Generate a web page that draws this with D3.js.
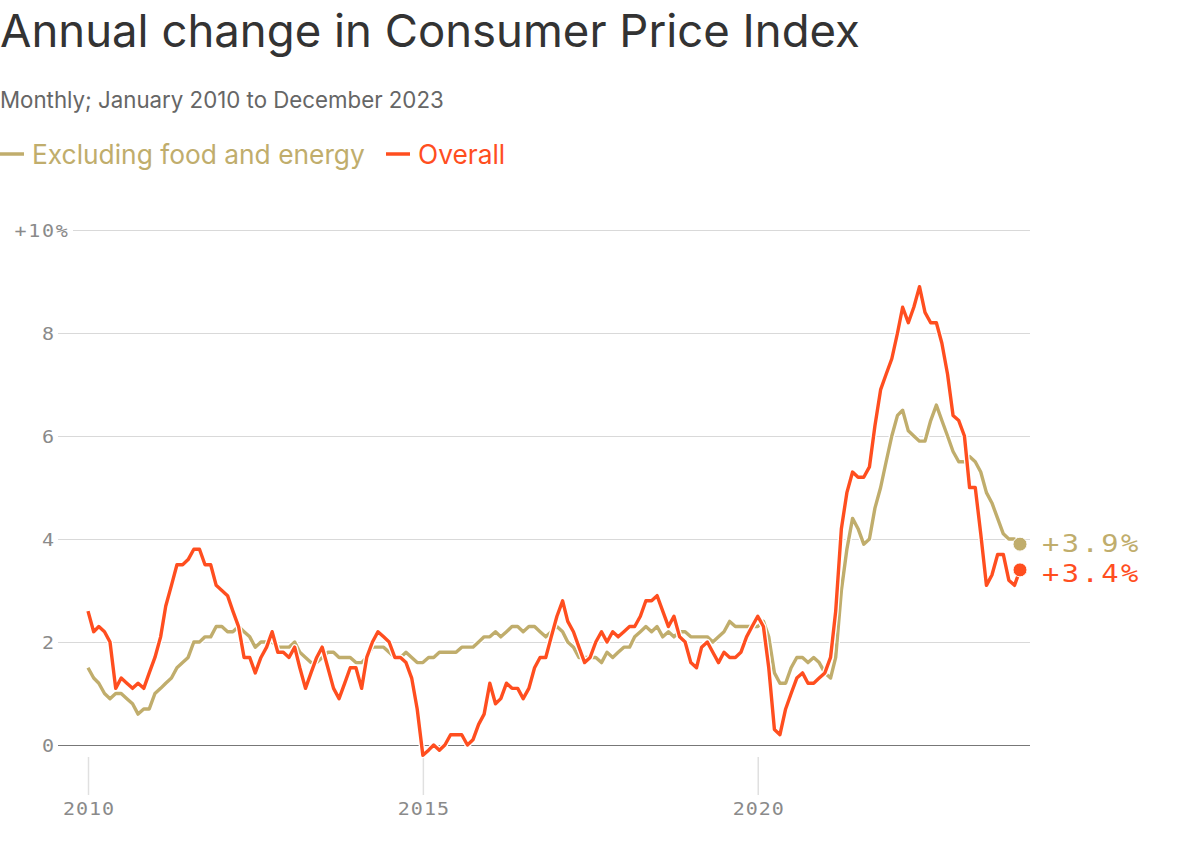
<!DOCTYPE html>
<html><head><meta charset="utf-8">
<script src="https://cdn.jsdelivr.net/npm/d3@7"></script>
<style>
body{margin:0;background:#fff;}
svg{display:block;}
</style></head><body>
<svg id="chart" width="1204" height="868"></svg>
<script>
// ---------- DATA ----------
const title = "Annual change in Consumer Price Index";
const subtitle = "Monthly; January 2010 to December 2023";
const seriesNames = ["Excluding food and energy", "Overall"];
const startYear = 2010, endYear = 2023;
const xTickYears = [2010, 2015, 2020];
const yTicks = [0, 2, 4, 6, 8, 10];

// Overall CPI, annual % change, Jan 2010 .. Dec 2023 (one row per year)
const overall = [
  2.6, 2.2, 2.3, 2.2, 2.0, 1.1, 1.3, 1.2, 1.1, 1.2, 1.1, 1.4,
  1.7, 2.1, 2.7, 3.1, 3.5, 3.5, 3.6, 3.8, 3.8, 3.5, 3.5, 3.1,
  3.0, 2.9, 2.6, 2.3, 1.7, 1.7, 1.4, 1.7, 1.9, 2.2, 1.8, 1.8,
  1.7, 1.9, 1.5, 1.1, 1.4, 1.7, 1.9, 1.5, 1.1, 0.9, 1.2, 1.5,
  1.5, 1.1, 1.7, 2.0, 2.2, 2.1, 2.0, 1.7, 1.7, 1.6, 1.3, 0.7,
 -0.2,-0.1, 0.0,-0.1, 0.0, 0.2, 0.2, 0.2, 0.0, 0.1, 0.4, 0.6,
  1.2, 0.8, 0.9, 1.2, 1.1, 1.1, 0.9, 1.1, 1.5, 1.7, 1.7, 2.1,
  2.5, 2.8, 2.4, 2.2, 1.9, 1.6, 1.7, 2.0, 2.2, 2.0, 2.2, 2.1,
  2.2, 2.3, 2.3, 2.5, 2.8, 2.8, 2.9, 2.6, 2.3, 2.5, 2.1, 2.0,
  1.6, 1.5, 1.9, 2.0, 1.8, 1.6, 1.8, 1.7, 1.7, 1.8, 2.1, 2.3,
  2.5, 2.3, 1.5, 0.3, 0.2, 0.7, 1.0, 1.3, 1.4, 1.2, 1.2, 1.3,
  1.4, 1.7, 2.6, 4.2, 4.9, 5.3, 5.2, 5.2, 5.4, 6.2, 6.9, 7.2,
  7.5, 8.0, 8.5, 8.2, 8.5, 8.9, 8.4, 8.2, 8.2, 7.8, 7.2, 6.4,
  6.3, 6.0, 5.0, 5.0, 4.1, 3.1, 3.3, 3.7, 3.7, 3.2, 3.1, 3.4
];

// Core CPI (excluding food and energy), annual % change, Jan 2010 .. Dec 2023
const core = [
  1.5, 1.3, 1.2, 1.0, 0.9, 1.0, 1.0, 0.9, 0.8, 0.6, 0.7, 0.7,
  1.0, 1.1, 1.2, 1.3, 1.5, 1.6, 1.7, 2.0, 2.0, 2.1, 2.1, 2.3,
  2.3, 2.2, 2.2, 2.3, 2.2, 2.1, 1.9, 2.0, 2.0, 2.0, 1.9, 1.9,
  1.9, 2.0, 1.8, 1.7, 1.6, 1.6, 1.7, 1.8, 1.8, 1.7, 1.7, 1.7,
  1.6, 1.6, 1.7, 1.9, 1.9, 1.9, 1.8, 1.7, 1.7, 1.8, 1.7, 1.6,
  1.6, 1.7, 1.7, 1.8, 1.8, 1.8, 1.8, 1.9, 1.9, 1.9, 2.0, 2.1,
  2.1, 2.2, 2.1, 2.2, 2.3, 2.3, 2.2, 2.3, 2.3, 2.2, 2.1, 2.2,
  2.3, 2.2, 2.0, 1.9, 1.7, 1.7, 1.7, 1.7, 1.6, 1.8, 1.7, 1.8,
  1.9, 1.9, 2.1, 2.2, 2.3, 2.2, 2.3, 2.1, 2.2, 2.1, 2.2, 2.2,
  2.1, 2.1, 2.1, 2.1, 2.0, 2.1, 2.2, 2.4, 2.3, 2.3, 2.3, 2.3,
  2.3, 2.4, 2.1, 1.4, 1.2, 1.2, 1.5, 1.7, 1.7, 1.6, 1.7, 1.6,
  1.4, 1.3, 1.7, 3.0, 3.8, 4.4, 4.2, 3.9, 4.0, 4.6, 5.0, 5.5,
  6.0, 6.4, 6.5, 6.1, 6.0, 5.9, 5.9, 6.3, 6.6, 6.3, 6.0, 5.7,
  5.5, 5.5, 5.6, 5.5, 5.3, 4.9, 4.7, 4.4, 4.1, 4.0, 4.0, 3.9
];

// ---------- STYLE ----------
const colCore = "#c0ad6c";
const colOverall = "#ff4e1f";
const sans = "Inter, 'Noto Sans', sans-serif";
const mono = "'DejaVu Sans Mono', monospace";
const tickScale = 1.1, tickLs = 1.55;

const svg = d3.select("#chart");

const months = d3.timeMonth.range(new Date(startYear, 0, 1), new Date(endYear + 1, 0, 1));
const coreData = months.map((d, i) => ({date: d, v: core[i]}));
const overallData = months.map((d, i) => ({date: d, v: overall[i]}));

const x = d3.scaleTime()
  .domain([months[0], months[months.length - 1]])
  .range([88, 1020]);
const y = d3.scaleLinear().domain([0, 10]).range([745, 230]);

function fitWidth(sel, target) {
  const w = sel.node().getComputedTextLength();
  const fs = parseFloat(sel.attr("font-size"));
  sel.attr("font-size", fs * target / w);
}

// Title / subtitle
fitWidth(svg.append("text").attr("x", 0).attr("y", 47).attr("font-family", sans)
  .attr("font-size", 46).attr("fill", "#333").text(title), 860);
fitWidth(svg.append("text").attr("x", 0).attr("y", 108).attr("font-family", sans)
  .attr("font-size", 21).attr("fill", "#666").text(subtitle), 444);

// Legend
const legend = [
  {name: seriesNames[0], color: colCore, x: 0},
  {name: seriesNames[1], color: colOverall, x: 386}
];
let legendFs = null;
legend.forEach((l, i) => {
  svg.append("line").attr("x1", l.x).attr("x2", l.x + 24).attr("y1", 154).attr("y2", 154)
    .attr("stroke", l.color).attr("stroke-width", 3.5);
  const t = svg.append("text").attr("x", l.x + 32).attr("y", 164).attr("font-family", sans)
    .attr("font-size", legendFs || 26).attr("fill", l.color).text(l.name);
  if (i === 0) { fitWidth(t, 333); legendFs = t.attr("font-size"); }
});

// Y axis with gridlines
const yAxis = d3.axisLeft(y).tickValues(yTicks).tickSize(-(1030 - 58)).tickPadding(0)
  .tickFormat(d => d === 10 ? "+10" : d);
const gy = svg.append("g").attr("transform", "translate(58,0)").call(yAxis);
gy.select(".domain").remove();
gy.selectAll(".tick line").attr("stroke", d => d === 0 ? "#777" : "#d9d9d9").attr("stroke-width", 1)
  .attr("x1", d => d === 10 ? 15 : 0);
gy.selectAll(".tick text").attr("font-family", mono).attr("font-size", 18.2).attr("fill", "#8a8a8a")
  .attr("letter-spacing", tickLs)
  .attr("x", (-4 + tickLs * tickScale) / tickScale).attr("dy", "0.36em")
  .attr("transform", `scale(${tickScale},1)`);
gy.selectAll(".tick").filter(d => d === 10).append("text")
  .attr("x", (-4 + tickLs * tickScale) / tickScale).attr("dy", "0.36em")
  .attr("font-family", mono).attr("font-size", 18.2)
  .attr("transform", `scale(${tickScale},1)`)
  .attr("fill", "#8a8a8a").attr("text-anchor", "start").text("%");

// X axis
const xAxis = d3.axisBottom(x).tickValues(xTickYears.map(yr => new Date(yr, 0, 1)))
  .tickSize(38).tickFormat(d3.timeFormat("%Y"));
const gx = svg.append("g").attr("transform", "translate(0,757)").call(xAxis);
gx.select(".domain").remove();
gx.selectAll(".tick line").attr("stroke", "#e0e0e0").attr("stroke-width", 1.5);
gx.selectAll(".tick text").attr("font-family", mono).attr("font-size", 18.2).attr("fill", "#8a8a8a")
  .attr("letter-spacing", 0.9).attr("transform", `scale(${tickScale},1)`)
  .attr("x", 0.45).attr("y", 58).attr("dy", 0);

// Lines
const line = d3.line().x(d => x(d.date)).y(d => y(d.v)).curve(d3.curveLinear);
[[coreData, colCore], [overallData, colOverall]].forEach(([data, color]) => {
  svg.append("path").datum(data).attr("d", line).attr("fill", "none")
    .attr("stroke", "#fff").attr("stroke-width", 6).attr("stroke-linejoin", "round");
  svg.append("path").datum(data).attr("d", line).attr("fill", "none")
    .attr("stroke", color).attr("stroke-width", 3.4).attr("stroke-linejoin", "round");
});

// End dots and labels
const ends = [
  {data: coreData, color: colCore, dy: 7.5},
  {data: overallData, color: colOverall, dy: 12}
];
ends.forEach(e => {
  const last = e.data[e.data.length - 1];
  svg.append("circle").attr("cx", x(last.date)).attr("cy", y(last.v)).attr("r", 7)
    .attr("fill", e.color).attr("stroke", "#fff").attr("stroke-width", 1);
  svg.append("text").attr("transform", `translate(1042,${y(last.v) + e.dy}) scale(1.15,1)`)
    .attr("font-family", mono).attr("font-size", 25).attr("letter-spacing", 2.1)
    .attr("fill", e.color).text("+" + last.v.toFixed(1) + "%");
});
</script>
</body></html>
